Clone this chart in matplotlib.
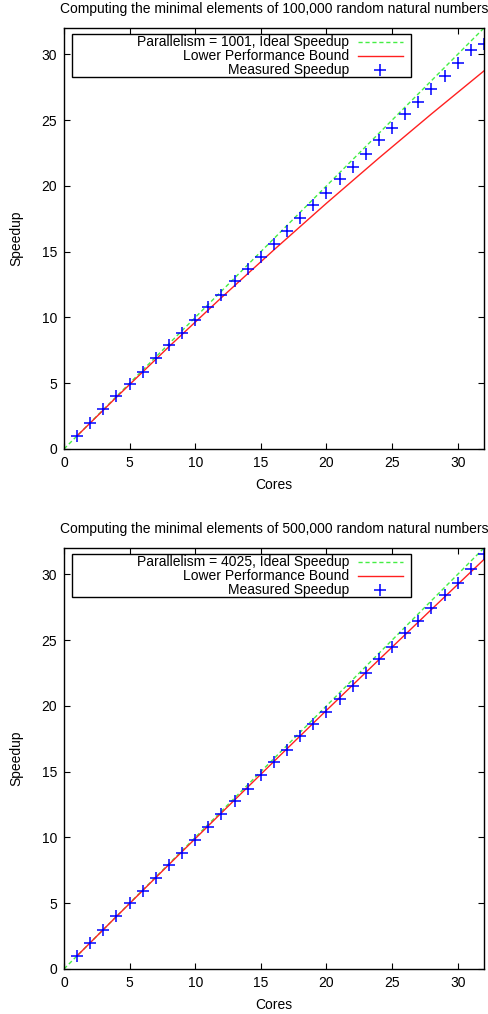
import matplotlib
matplotlib.use('Agg')
import matplotlib.pyplot as plt
from matplotlib.patches import Rectangle

plt.rcParams['font.family'] = ['Liberation Sans', 'DejaVu Sans']

cores = list(range(1, 33))

# 100,000 numbers
title_a = 'Computing the minimal elements of 100,000 random natural numbers'
parallelism_a = 1001
measured_a = [0.99, 2.0, 3.02, 4.04, 4.95, 5.89, 6.9, 7.87, 8.81, 9.82, 10.76, 11.73,
              12.74, 13.68, 14.6, 15.61, 16.55, 17.57, 18.53, 19.47, 20.49, 21.45,
              22.44, 23.45, 24.42, 25.44, 26.4, 27.4, 28.36, 29.37, 30.3, 30.77]
bound_cores_a = [1, 4, 8, 12, 16, 20, 24, 28, 32]
bound_a = [1.0, 3.94, 7.78, 11.51, 15.14, 18.68, 22.12, 25.47, 28.74]

# 500,000 numbers
title_b = 'Computing the minimal elements of 500,000 random natural numbers'
parallelism_b = 4025
measured_b = [0.99, 1.99, 3.0, 4.02, 4.98, 5.94, 6.92, 7.91, 8.85, 9.78, 10.79, 11.75,
              12.74, 13.7, 14.71, 15.72, 16.68, 17.69, 18.63, 19.56, 20.52, 21.48,
              22.49, 23.55, 24.51, 25.57, 26.46, 27.47, 28.43, 29.37, 30.38, 31.56]
bound_cores_b = [1, 4, 8, 12, 16, 20, 24, 28, 32]
bound_b = [1.0, 3.99, 7.94, 11.87, 15.78, 19.66, 23.51, 27.33, 31.13]

ideal_cores = [0, 32]
ideal = [0, 32]

GREEN = '#44ee44'
RED = '#ff2020'
BLUE = '#0000ff'
FS = 10

fig = plt.figure(figsize=(4.88, 10.14), dpi=100)


def draw_panel(ax, title, parallelism, measured, bound_cores, bound):
    ax.plot(ideal_cores, ideal, color=GREEN, lw=1.0, ls=(0, (3, 2)))
    ax.plot(bound_cores, bound, color=RED, lw=1.0)
    ax.plot(cores, measured, ls='none', marker='+', ms=9, mew=1.1, color=BLUE)

    ax.set_xlim(0, 32)
    ax.set_ylim(0, 32)
    ax.set_xticks(range(0, 31, 5))
    ax.set_yticks(range(0, 31, 5))
    ax.tick_params(direction='in', length=4.5, width=0.8, top=True, right=True,
                   labelsize=FS, pad=5)
    for s in ax.spines.values():
        s.set_linewidth(1.0)
    ax.set_title(title, fontsize=FS, pad=11)
    ax.set_xlabel('Cores', fontsize=FS, labelpad=6)
    ax.set_ylabel('Speedup', fontsize=FS, labelpad=13)

    # gnuplot style key: text right aligned, sample on the right
    tr = ax.transAxes
    ax.add_patch(Rectangle((0.019, 0.884), 0.807, 0.102, transform=tr,
                           fill=False, lw=1.0, ec='black', zorder=5))
    labels = ['Parallelism = %d, Ideal Speedup' % parallelism,
              'Lower Performance Bound', 'Measured Speedup']
    rows = [0.967, 0.934, 0.901]
    for lab, y in zip(labels, rows):
        ax.text(0.679, y, lab, transform=tr, ha='right', va='center', fontsize=FS)
    ax.plot([0.70, 0.807], [rows[0]] * 2, transform=tr, color=GREEN, lw=1.0,
            ls=(0, (3, 2)), clip_on=False)
    ax.plot([0.70, 0.807], [rows[1]] * 2, transform=tr, color=RED, lw=1.0, clip_on=False)
    ax.plot([0.752], [rows[2]], transform=tr, ls='none', marker='+', ms=9, mew=1.1,
            color=BLUE, clip_on=False)


ax1 = fig.add_axes([0.1311, 0.5572, 0.8607, 0.4152])
draw_panel(ax1, title_a, parallelism_a, measured_a, bound_cores_a, bound_a)

ax2 = fig.add_axes([0.1311, 0.0444, 0.8607, 0.4152])
draw_panel(ax2, title_b, parallelism_b, measured_b, bound_cores_b, bound_b)

fig.savefig('out.png', dpi=100)
